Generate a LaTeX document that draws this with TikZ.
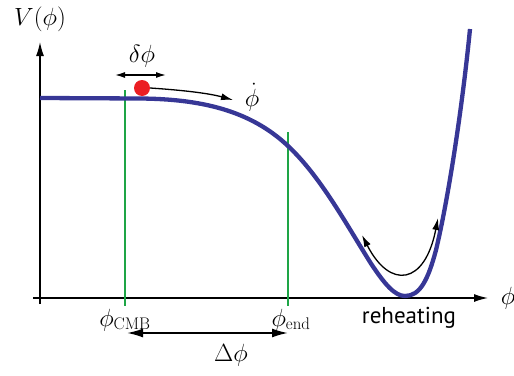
\documentclass[tikz,border=0pt]{standalone}
\usepackage{fontspec}
\newfontfamily\labelsans{PT Sans}
\usetikzlibrary{arrows.meta}
\definecolor{potblue}{RGB}{55,55,150}
\definecolor{lineg}{RGB}{30,165,70}
\definecolor{dotred}{RGB}{235,30,35}
\begin{document}
\begin{tikzpicture}[x=1pt,y=-1pt,
  axis/.style={line width=1.4pt,-{Latex[length=14pt,width=8pt]}},
  marker/.style={lineg,line width=2pt},
  lbl/.style={inner sep=0pt,font=\fontsize{24}{28}\selectfont},
  biglbl/.style={inner sep=0pt,font=\fontsize{27}{31}\selectfont},
  smallarr/.style={line width=1.3pt,{Latex[length=10pt,width=6pt]}-{Latex[length=10pt,width=6pt]}},
  onearr/.style={line width=1.3pt,-{Latex[length=12pt,width=7pt]}}]
\useasboundingbox (0,0) rectangle (514,375);
% axes
\coordinate (yb) at (40,304);
\coordinate (yt) at (40,42);
\coordinate (xl) at (33,298);
\coordinate (xr) at (488,298);
\draw[axis] (yb) -- (yt);
\draw[axis] (xl) -- (xr);
\node[biglbl] (vlab) at (40,19) {$V(\phi)$};
\node[inner sep=0pt,font=\fontsize{26}{30}\selectfont] (philab) at (508,298) {$\phi$};
% green markers
\coordinate (g1t) at (125,90);
\coordinate (g1b) at (125,306);
\coordinate (g2t) at (288,132);
\coordinate (g2b) at (288,306);
\draw[marker] (g1t) -- (g1b);
\draw[marker] (g2t) -- (g2b);
% potential
\draw[potblue,line width=4.3pt,line join=round]
  (40,98) -- (140,98.5) .. controls (200,99) and (250,110) .. (288,146)
  .. controls (320,176) and (345,222) .. (370,262)
  .. controls (385,285) and (395,296) .. (405,296)
  .. controls (420,296) and (428,280) .. (436,250)
  .. controls (448,200) and (462,110) .. (470,29);
% labels
\node[lbl] (cmb) at (125,320) {$\phi_{\mathrm{CMB}}$};
\node[lbl] (end) at (291,320) {$\phi_{\mathrm{end}}$};
\node[inner sep=0pt,font=\labelsans\fontsize{23}{26}\selectfont] (reh) at (409,318) {reheating};
% Delta phi
\coordinate (da) at (127,333);
\coordinate (db) at (288,333);
\draw[line width=1.8pt,{Latex[length=16pt,width=9pt]}-{Latex[length=16pt,width=9pt]}] (da) -- (db);
\node[inner sep=0pt,font=\fontsize{26}{30}\selectfont] (dlab) at (231,355) {$\Delta\phi$};
% ball
\node[circle,fill=dotred,minimum size=16pt,inner sep=0pt] (ball) at (142,88) {};
\coordinate (da1) at (115,75);
\coordinate (da2) at (166,75);
\draw[smallarr] (da1) -- (da2);
\node[lbl] (dphi) at (142,56) {$\delta\phi$};
\coordinate (vend) at (233,100);
\draw[onearr] (ball.east) .. controls (180,90) and (208,93) .. (vend);
\node[lbl] (phidot) at (252,97) {$\dot\phi$};
% reheating oscillation arrow
\coordinate (r1) at (362,235);
\coordinate (r2) at (438,218);
\draw[line width=1.3pt,{Latex[length=12pt,width=7pt]}-{Latex[length=12pt,width=7pt]}] (r1) .. controls (390,290) and (425,285) .. (r2);
\end{tikzpicture}
\end{document}
